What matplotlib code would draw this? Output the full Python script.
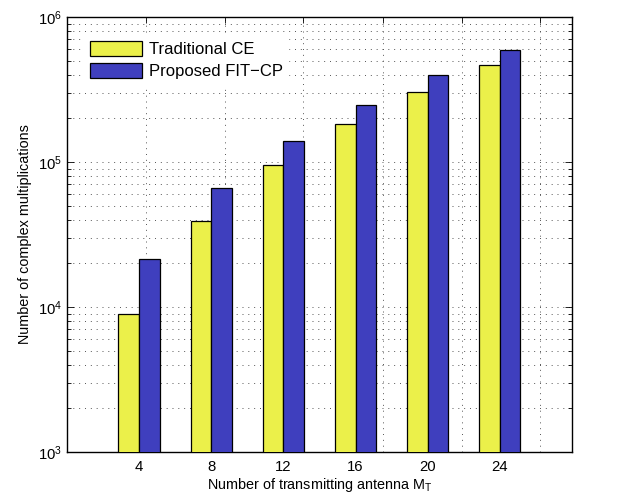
import numpy as np
import matplotlib.pyplot as plt
from matplotlib.ticker import LogLocator, NullFormatter, FixedLocator

plt.rcParams["font.family"] = ["Liberation Sans", "DejaVu Sans"]

antennas = [4, 8, 12, 16, 20, 24]
traditional_ce = [9000, 39200, 95500, 182000, 305000, 469000]
proposed_fitcp = [21600, 66000, 139500, 248000, 400000, 596000]
series_names = ["Traditional CE", "Proposed FIT\u2212CP"]

yellow = "#ebf04a"
blue = "#3f3fbe"
fs = 10.4

fig = plt.figure(figsize=(6.3, 5.0), dpi=100)
ax = fig.add_axes([0.106, 0.096, 0.802, 0.870])

x = np.array(antennas, dtype=float)
w = 1.14
ax.bar(x - w / 2, traditional_ce, width=w, color=yellow, edgecolor="black",
       linewidth=0.9, label=series_names[0], zorder=3)
ax.bar(x + w / 2, proposed_fitcp, width=w, color=blue, edgecolor="black",
       linewidth=0.9, label=series_names[1], zorder=3)

ax.set_yscale("log")
ax.set_ylim(1e3, 1e6)
ax.set_xlim(0, 28)

# x labels sit under the bar groups, grid columns on their own positions
ax.set_xticks(antennas)
ax.set_xticklabels([str(a) for a in antennas])
ax.tick_params(axis="x", which="major", length=0, labelsize=fs + 0.3, pad=6)
ax.xaxis.set_minor_locator(FixedLocator([4.4, 8.75, 13.1, 17.5, 21.9, 26.25]))
ax.tick_params(axis="x", which="minor", direction="in", length=4,
               top=True, bottom=False, width=0.6)

ax.yaxis.set_major_locator(LogLocator(base=10, numticks=10))
ax.yaxis.set_minor_locator(LogLocator(base=10, subs=np.arange(2, 10), numticks=10))
ax.yaxis.set_minor_formatter(NullFormatter())
ax.tick_params(axis="y", which="both", direction="in", right=True, labelsize=fs + 0.3)
ax.tick_params(axis="y", which="major", length=5, width=0.6)
ax.tick_params(axis="y", which="minor", length=3, width=0.6)

grid_style = dict(color="#555555", linestyle=(0, (1, 5)), linewidth=0.7, zorder=0)
ax.grid(True, axis="y", which="both", **grid_style)
ax.grid(True, axis="x", which="minor", **grid_style)
ax.set_axisbelow(True)

for s in ax.spines.values():
    s.set_linewidth(1.0)

ax.set_xlabel("Number of transmitting antenna M$_\\mathregular{T}$", fontsize=fs, labelpad=1)
ax.set_ylabel("Number of complex multiplications", fontsize=fs, labelpad=4)

leg = ax.legend(loc="upper left", bbox_to_anchor=(0.02, 0.975), frameon=True,
                fontsize=12, handlelength=3.1, handleheight=1.0,
                handletextpad=0.4, labelspacing=0.35, borderpad=0.3)
leg.get_frame().set_edgecolor("white")
leg.get_frame().set_facecolor("white")
leg.get_frame().set_alpha(1.0)
leg.get_frame().set_boxstyle("square", pad=0)

fig.savefig("out.png", dpi=100)
